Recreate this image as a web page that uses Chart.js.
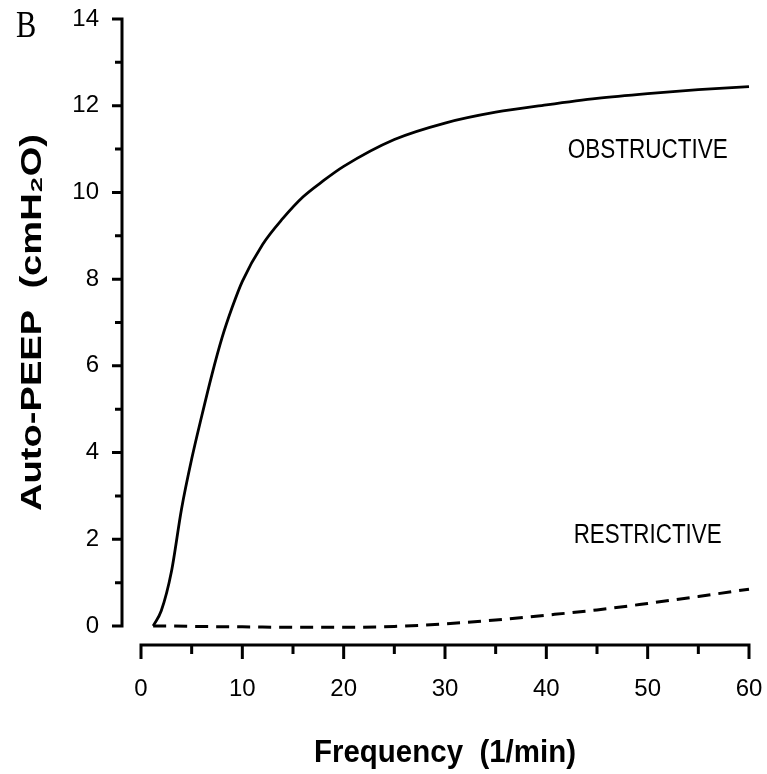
<!DOCTYPE html>
<html>
<head>
<meta charset="utf-8">
<script src="https://cdn.jsdelivr.net/npm/chart.js@4.4.1/dist/chart.umd.min.js"></script>
<style>
  html, body { margin: 0; padding: 0; background: #fff; }
  #wrap { width: 767px; height: 774px; }
</style>
</head>
<body>
<div id="wrap"><canvas id="chart"></canvas></div>
<script>
// values
const obstructiveX = [1.2, 2, 3, 4, 5, 6, 7, 8, 9, 10, 12, 14, 16, 18, 20, 25, 30, 35, 40, 45, 50, 55, 60];
const obstructiveY = [0, 0.35, 1.25, 2.7, 3.85, 4.85, 5.8, 6.65, 7.35, 7.95, 8.8, 9.4, 9.9, 10.27, 10.6, 11.22, 11.6, 11.85, 12.02, 12.17, 12.28, 12.37, 12.44];
const restrictiveX = [1.2, 5, 10, 15, 20, 25, 30, 35, 40, 45, 50, 55, 60];
const restrictiveY = [0, -0.01, -0.02, -0.03, -0.03, -0.01, 0.05, 0.14, 0.25, 0.37, 0.52, 0.68, 0.85];
const xTicks = [0, 10, 20, 30, 40, 50, 60];
const yTicks = [0, 2, 4, 6, 8, 10, 12, 14];

const FONT = '"Liberation Sans", Arial, sans-serif';

const toPoints = (xs, ys) => xs.map((x, i) => ({ x: x, y: ys[i] }));

// curve names, baseline centre in data coordinates, printed width in px
const curveLabels = [
    { text: 'OBSTRUCTIVE', x: 50.0, y: 10.79, w: 160 },
    { text: 'RESTRICTIVE', x: 50.0, y: 1.91, w: 148 }
];

// the scanned lettering is stretched/narrowed, so squeeze text to a width
function fillFitted(ctx, text, x, y, width) {
    const w = ctx.measureText(text).width;
    ctx.save();
    ctx.translate(x, y);
    ctx.scale(width / w, 1);
    ctx.fillText(text, 0, 0);
    ctx.restore();
}

// detached axes with outward ticks, like the printed figure
const axesPlugin = {
    id: 'detachedAxes',
    afterDraw(chart) {
        const { ctx, chartArea, scales } = chart;
        const xs = scales.x, ys = scales.y;
        ctx.save();
        ctx.strokeStyle = '#000';
        ctx.lineWidth = 3;
        ctx.lineCap = 'butt';

        const ax = chartArea.left - 19;
        ctx.beginPath();
        ctx.moveTo(ax, ys.getPixelForValue(14) - 1.5);
        ctx.lineTo(ax, ys.getPixelForValue(0) + 1.5);
        for (let v = 0; v <= 14; v++) {
            const py = ys.getPixelForValue(v);
            ctx.moveTo(ax + 1, py);
            ctx.lineTo(ax - (v % 2 === 0 ? 10 : 7), py);
        }
        ctx.stroke();

        const ay = chartArea.bottom + 19;
        ctx.beginPath();
        ctx.moveTo(xs.getPixelForValue(0) - 1.5, ay);
        ctx.lineTo(xs.getPixelForValue(60) + 1.5, ay);
        for (let v = 0; v <= 60; v += 5) {
            const px = xs.getPixelForValue(v);
            ctx.moveTo(px, ay - 1);
            ctx.lineTo(px, ay + (v % 10 === 0 ? 14 : 9));
        }
        ctx.stroke();

        ctx.fillStyle = '#000';
        ctx.textAlign = 'center';
        ctx.textBaseline = 'alphabetic';

        ctx.font = '27px ' + FONT;
        curveLabels.forEach(l => {
            fillFitted(ctx, l.text, xs.getPixelForValue(l.x), ys.getPixelForValue(l.y), l.w);
        });

        // axis titles
        ctx.font = 'bold 31px ' + FONT;
        fillFitted(ctx, 'Frequency  (1/min)', (chartArea.left + chartArea.right) / 2, 762, 262);

        ctx.save();
        ctx.translate(41, (chartArea.top + chartArea.bottom) / 2);
        ctx.rotate(-Math.PI / 2);
        ctx.font = 'bold 30px ' + FONT;
        fillFitted(ctx, 'Auto-PEEP  (cmH₂O)', 0, 0, 377);
        ctx.restore();

        // panel letter
        ctx.save();
        ctx.translate(16, 37);
        ctx.scale(0.8, 1);
        ctx.font = '38px "Liberation Serif", "DejaVu Serif", serif';
        ctx.textAlign = 'left';
        ctx.fillText('B', 0, 0);
        ctx.restore();

        ctx.restore();
    }
};

// invisible tick marks only push the labels away from the plot
const hiddenGrid = (len) => ({
    display: true,
    drawOnChartArea: false,
    drawTicks: true,
    tickLength: len,
    color: 'rgba(0,0,0,0)'
});

new Chart(document.getElementById('chart'), {
    type: 'line',
    data: {
        datasets: [{
            label: 'Obstructive',
            data: toPoints(obstructiveX, obstructiveY),
            borderColor: '#000',
            borderWidth: 2.8,
            pointRadius: 0,
            cubicInterpolationMode: 'monotone',
            clip: false,
            fill: false
        }, {
            label: 'Restrictive',
            data: toPoints(restrictiveX, restrictiveY),
            borderColor: '#000',
            borderWidth: 3,
            borderDash: [13, 8],
            pointRadius: 0,
            cubicInterpolationMode: 'monotone',
            clip: false,
            fill: false
        }]
    },
    options: {
        responsive: true,
        maintainAspectRatio: false,
        animation: false,
        layout: { padding: { top: 19, right: 18, left: 0, bottom: 0 } },
        plugins: {
            legend: { display: false },
            tooltip: { enabled: false }
        },
        scales: {
            x: {
                type: 'linear',
                min: 0,
                max: 60,
                afterBuildTicks: s => { s.ticks = xTicks.map(v => ({ value: v })); },
                afterFit: s => { s.height = 148; },
                grid: hiddenGrid(45),
                border: { display: false },
                ticks: {
                    color: '#000',
                    padding: 4,
                    maxRotation: 0,
                    font: { family: FONT, size: 24 }
                },
                title: { display: false, text: 'Frequency  (1/min)' }
            },
            y: {
                min: 0,
                max: 14,
                afterBuildTicks: s => { s.ticks = yTicks.map(v => ({ value: v })); },
                afterFit: s => { s.width = 141; },
                grid: hiddenGrid(38),
                border: { display: false },
                ticks: {
                    color: '#000',
                    padding: 4,
                    font: { family: FONT, size: 24 }
                },
                title: { display: false, text: 'Auto-PEEP  (cmH₂O)' }
            }
        }
    },
    plugins: [axesPlugin]
});
</script>
</body>
</html>
